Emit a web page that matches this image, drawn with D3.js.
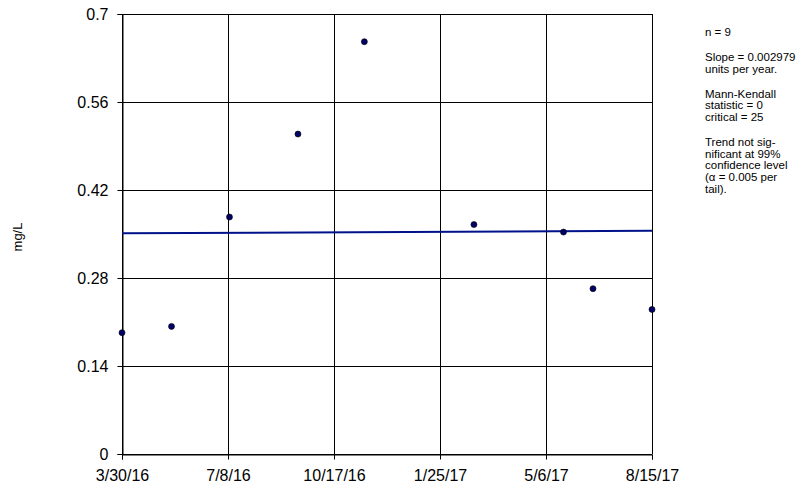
<!DOCTYPE html>
<html>
<head>
<meta charset="utf-8">
<script src="https://cdn.jsdelivr.net/npm/d3@7"></script>
<style>
  body { margin: 0; background: #fff; }
  svg { display: block; font-family: "Liberation Sans", Arial, sans-serif; }
</style>
</head>
<body>
<div id="chart"></div>
<script>
const width = 802;
const height = 488;

// sample dates and concentrations (mg/L)
const sampleDates = ["2016-03-30", "2016-05-16", "2016-07-10", "2016-09-13", "2016-11-15",
                     "2017-02-27", "2017-05-23", "2017-06-20", "2017-08-15"];
const sampleValues = [0.193, 0.203, 0.377, 0.509, 0.656, 0.365, 0.353, 0.263, 0.230];

// x tick labels, y ticks
const xTickLabels = ["3/30/16", "7/8/16", "10/17/16", "1/25/17", "5/6/17", "8/15/17"];
const yTicks = [0, 0.14, 0.28, 0.42, 0.56, 0.7];

// Sen slope trend line
const trendStartValue = 0.3511;
const slopePerYear = 0.002979;

const statsText = [
  "n = 9", "",
  "Slope = 0.002979", "units per year.", "",
  "Mann-Kendall", "statistic = 0", "critical = 25", "",
  "Trend not sig-", "nificant at 99%", "confidence level", "(\u03b1 = 0.005 per", "tail)."
];

const margin = {top: 14, right: 150, bottom: 34, left: 122};
const parse = d3.timeParse("%Y-%m-%d");
const points = sampleDates.map((d, i) => ({date: parse(d), value: sampleValues[i]}));

const start = parse("2016-03-30");
const end = parse("2017-08-15");

const svg = d3.select("#chart")
    .append("svg")
    .attr("width", width)
    .attr("height", height);

svg.append("rect").attr("width", width).attr("height", height).attr("fill", "#fff");

const x = d3.scaleTime()
    .domain([start, end])
    .range([margin.left, 652]);

const y = d3.scaleLinear()
    .domain([0, 0.7])
    .range([454, margin.top]);

// evenly spaced date ticks like the spreadsheet axis
const xTickDates = d3.range(xTickLabels.length)
    .map(i => new Date(+start + (end - start) * i / (xTickLabels.length - 1)));

// gridlines
svg.append("g")
    .attr("stroke", "#000")
    .attr("stroke-width", 1)
    .selectAll("line.h")
    .data(yTicks)
    .join("line")
    .attr("x1", x.range()[0])
    .attr("x2", x.range()[1])
    .attr("y1", d => Math.round(y(d)) + 0.5)
    .attr("y2", d => Math.round(y(d)) + 0.5);

svg.append("g")
    .attr("stroke", "#000")
    .attr("stroke-width", 1)
    .selectAll("line.v")
    .data(xTickDates)
    .join("line")
    .attr("x1", d => Math.round(x(d)) + 0.5)
    .attr("x2", d => Math.round(x(d)) + 0.5)
    .attr("y1", y.range()[1])
    .attr("y2", y.range()[0]);

// axes
const yAxis = svg.append("g")
    .attr("transform", `translate(${x.range()[0] + 0.5},0)`)
    .call(d3.axisLeft(y).tickValues(yTicks).tickSize(5).tickPadding(9)
        .tickFormat(d => d3.format("")(+d.toFixed(2))));

const xAxis = svg.append("g")
    .attr("transform", `translate(0,${Math.round(y(0)) + 0.5})`)
    .call(d3.axisBottom(x).tickValues(xTickDates).tickSize(5).tickPadding(10)
        .tickFormat((d, i) => xTickLabels[i]));

[xAxis, yAxis].forEach(g => {
  g.select(".domain").attr("stroke", "#000");
  g.selectAll(".tick line").attr("stroke", "#000");
  g.selectAll("text")
      .attr("fill", "#000")
      .attr("font-size", "16px")
      .attr("font-family", "Liberation Sans, Arial, sans-serif");
});

// trend line
const years = (end - start) / (365.25 * 864e5);
svg.append("line")
    .attr("x1", x(start))
    .attr("x2", x(end))
    .attr("y1", y(trendStartValue))
    .attr("y2", y(trendStartValue + slopePerYear * years))
    .attr("stroke", "#00128a")
    .attr("stroke-width", 2);

// data points
svg.append("g")
    .selectAll("circle")
    .data(points)
    .join("circle")
    .attr("cx", d => x(d.date))
    .attr("cy", d => y(d.value))
    .attr("r", 3)
    .attr("fill", "#000066")
    .attr("stroke", "#000")
    .attr("stroke-width", 0.6);

// y axis title
svg.append("text")
    .attr("transform", "translate(22,237) rotate(-90)")
    .attr("text-anchor", "middle")
    .attr("font-size", "13px")
    .text("mg/L");

// stats text block: text lines are tight, blank lines a bit taller
let ty = 36;
const statsY = statsText.map((d, i) => {
  if (i > 0) ty += statsText[i - 1] === "" ? 13.5 : 11.6;
  return ty;
});

svg.append("g")
    .selectAll("text")
    .data(statsText)
    .join("text")
    .attr("x", 705)
    .attr("y", (d, i) => statsY[i])
    .attr("font-size", "11.5px")
    .text(d => d);
</script>
</body>
</html>
